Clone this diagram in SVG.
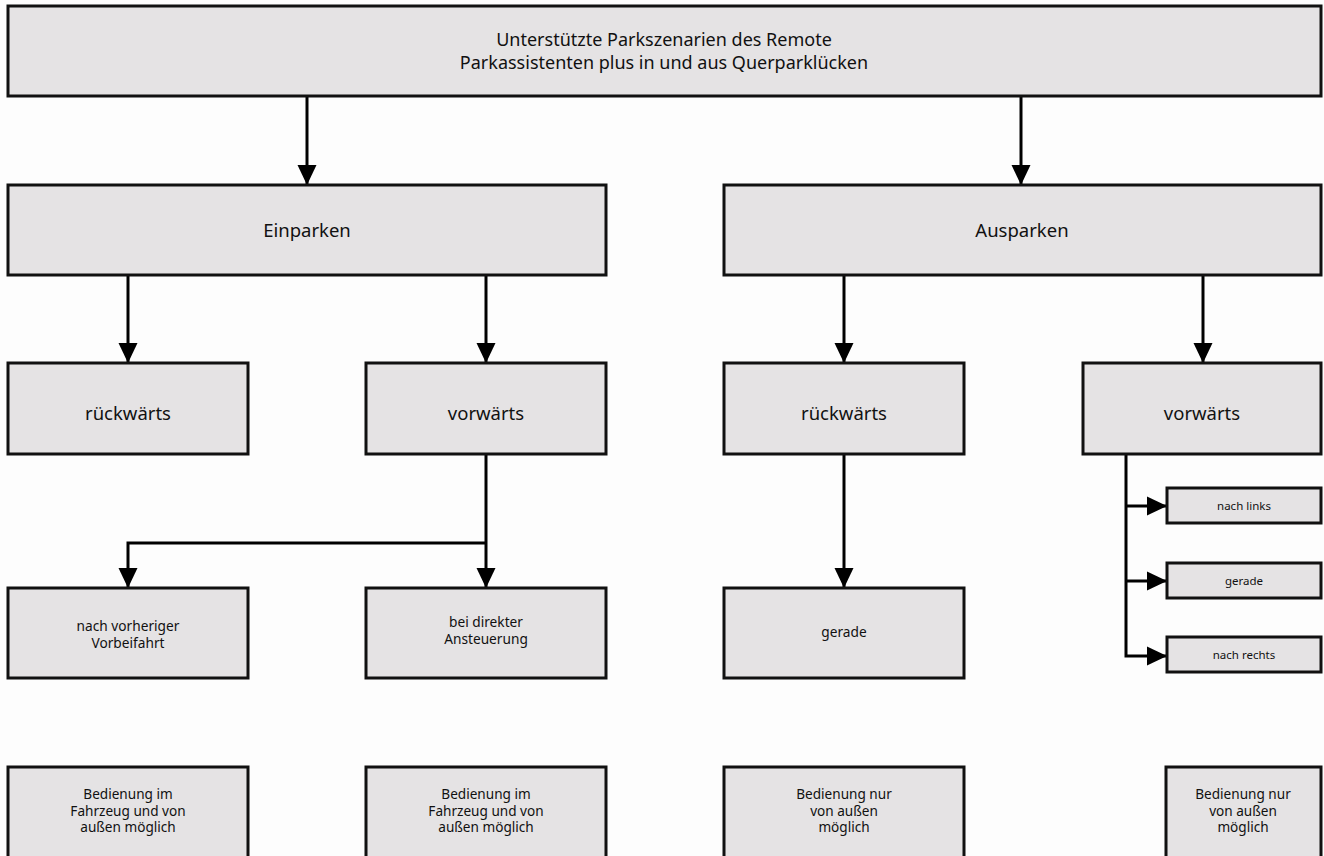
<svg xmlns="http://www.w3.org/2000/svg" width="1324" height="856" viewBox="0 0 1324 856">
  <style>
    .box { fill: #e5e3e4; stroke: #111; stroke-width: 3; }
    .t { font-family: "Noto Sans", "Open Sans", sans-serif; fill: #111; text-anchor: middle; }
    .xl { font-size: 18px; }
    .l { font-size: 18.5px; }
    .m { font-size: 13.7px; }
    .b { font-size: 13.6px; }
    .s { font-size: 11.5px; }
    .wire { fill: none; stroke: #000; stroke-width: 3; }
  </style>
  <defs>
    <marker id="arrow" viewBox="0 0 20 20" markerWidth="20" markerHeight="20" refX="20" refY="10" orient="auto" markerUnits="userSpaceOnUse">
      <path d="M0,0.5 L20,10 L0,19.5 Z" fill="#000"/>
    </marker>
  </defs>
  <rect width="1324" height="856" fill="#fdfdfd"/>

  <!-- connectors -->
  <g id="connectors" class="wire">
    <path d="M307,96 V185" marker-end="url(#arrow)"/>
    <path d="M1021,96 V185" marker-end="url(#arrow)"/>
    <path d="M128,275 V363" marker-end="url(#arrow)"/>
    <path d="M486,275 V363" marker-end="url(#arrow)"/>
    <path d="M844,275 V363" marker-end="url(#arrow)"/>
    <path d="M1203,275 V363" marker-end="url(#arrow)"/>
    <path d="M486,454 V588" marker-end="url(#arrow)"/>
    <path d="M486,543 H128 V588" marker-end="url(#arrow)"/>
    <path d="M844,454 V588" marker-end="url(#arrow)"/>
    <path d="M1126,454 V656 H1167" marker-end="url(#arrow)"/>
    <path d="M1126,506 H1167" marker-end="url(#arrow)"/>
    <path d="M1126,581 H1167" marker-end="url(#arrow)"/>
  </g>

  <!-- root -->
  <g id="root">
    <rect class="box" x="8" y="6" width="1313" height="90"/>
    <text class="t xl" x="664" y="45.5">Unterstützte Parkszenarien des Remote</text>
    <text class="t xl" x="664" y="68.5">Parkassistenten plus in und aus Querparklücken</text>
  </g>

  <g id="einparken">
    <rect class="box" x="8" y="185" width="598" height="90"/>
    <text class="t l" x="307" y="237">Einparken</text>
  </g>
  <g id="ausparken">
    <rect class="box" x="724" y="185" width="597" height="90"/>
    <text class="t l" x="1022" y="237">Ausparken</text>
  </g>

  <g id="ein-rueckwaerts">
    <rect class="box" x="8" y="363" width="240" height="91"/>
    <text class="t l" x="128" y="420">rückwärts</text>
  </g>
  <g id="ein-vorwaerts">
    <rect class="box" x="366" y="363" width="240" height="91"/>
    <text class="t l" x="486" y="420">vorwärts</text>
  </g>
  <g id="aus-rueckwaerts">
    <rect class="box" x="724" y="363" width="240" height="91"/>
    <text class="t l" x="844" y="420">rückwärts</text>
  </g>
  <g id="aus-vorwaerts">
    <rect class="box" x="1083" y="363" width="238" height="91"/>
    <text class="t l" x="1202" y="420">vorwärts</text>
  </g>

  <g id="vorbeifahrt">
    <rect class="box" x="8" y="588" width="240" height="90"/>
    <text class="t m" x="128" y="631">nach vorheriger</text>
    <text class="t m" x="128" y="648">Vorbeifahrt</text>
  </g>
  <g id="ansteuerung">
    <rect class="box" x="366" y="588" width="240" height="90"/>
    <text class="t m" x="486" y="627">bei direkter</text>
    <text class="t m" x="486" y="644">Ansteuerung</text>
  </g>
  <g id="aus-gerade">
    <rect class="box" x="724" y="588" width="240" height="90"/>
    <text class="t m" x="844" y="637">gerade</text>
  </g>

  <g id="nach-links">
    <rect class="box" x="1167" y="488" width="154" height="35"/>
    <text class="t s" x="1244" y="510">nach links</text>
  </g>
  <g id="vor-gerade">
    <rect class="box" x="1167" y="563" width="154" height="35"/>
    <text class="t s" x="1244" y="585">gerade</text>
  </g>
  <g id="nach-rechts">
    <rect class="box" x="1167" y="637" width="154" height="35"/>
    <text class="t s" x="1244" y="659">nach rechts</text>
  </g>

  <g id="bedienung-1">
    <rect class="box" x="8" y="767" width="240" height="92"/>
    <text class="t b" x="128" y="799">Bedienung im</text>
    <text class="t b" x="128" y="815.5">Fahrzeug und von</text>
    <text class="t b" x="128" y="832">außen möglich</text>
  </g>
  <g id="bedienung-2">
    <rect class="box" x="366" y="767" width="240" height="92"/>
    <text class="t b" x="486" y="799">Bedienung im</text>
    <text class="t b" x="486" y="815.5">Fahrzeug und von</text>
    <text class="t b" x="486" y="832">außen möglich</text>
  </g>
  <g id="bedienung-3">
    <rect class="box" x="724" y="767" width="240" height="92"/>
    <text class="t b" x="844" y="799">Bedienung nur</text>
    <text class="t b" x="844" y="815.5">von außen</text>
    <text class="t b" x="844" y="832">möglich</text>
  </g>
  <g id="bedienung-4">
    <rect class="box" x="1166" y="767" width="155" height="92"/>
    <text class="t b" x="1243" y="799">Bedienung nur</text>
    <text class="t b" x="1243" y="815.5">von außen</text>
    <text class="t b" x="1243" y="832">möglich</text>
  </g>
</svg>
